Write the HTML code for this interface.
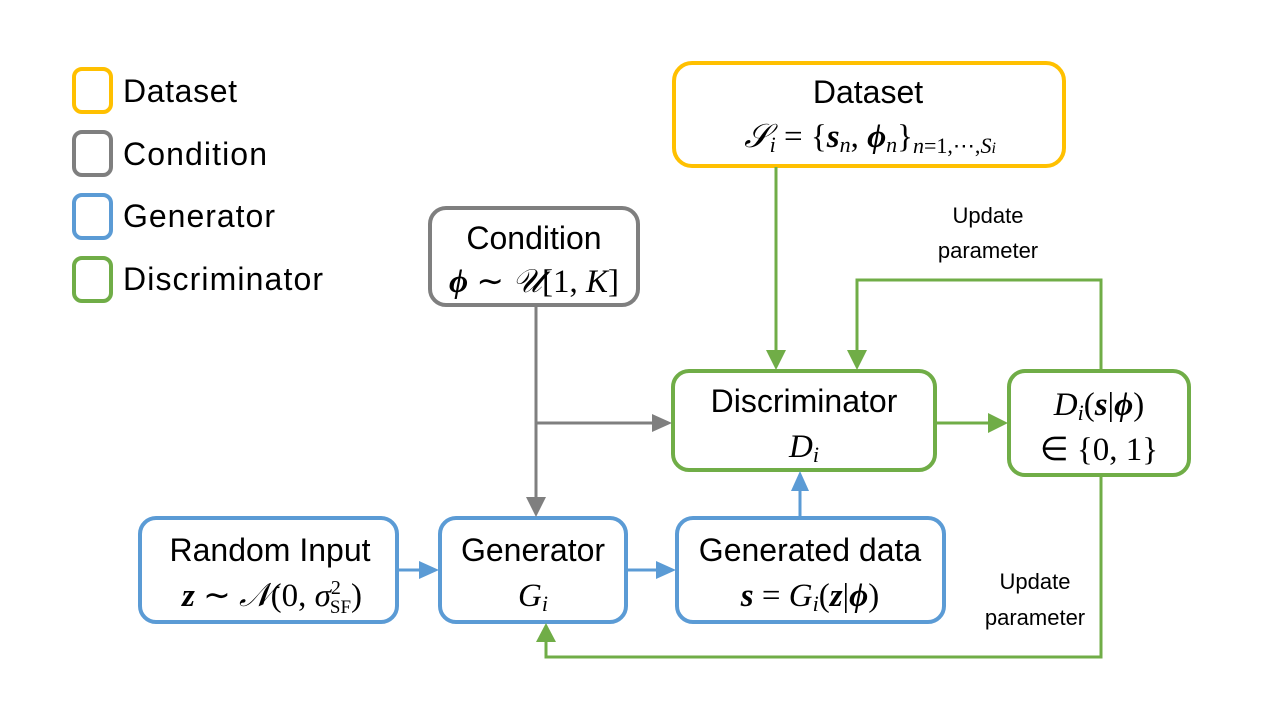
<!DOCTYPE html>
<html><head><meta charset="utf-8"><style>
html,body{margin:0;padding:0;background:#fff;}
svg{display:block;}
.t{font-family:"Liberation Sans",sans-serif;font-size:32px;fill:#000;}
.m{font-family:"Liberation Serif",serif;font-size:33px;fill:#000;}
.s{font-family:"Liberation Sans",sans-serif;font-size:22px;fill:#000;}
</style></head><body>
<svg width="1280" height="720" viewBox="0 0 1280 720" xmlns="http://www.w3.org/2000/svg">
<g fill="none" stroke-width="4">
<rect x="74" y="69" width="37" height="43" rx="8" stroke="#FFC000"/>
<rect x="74" y="132" width="37" height="43" rx="8" stroke="#7F7F7F"/>
<rect x="74" y="195" width="37" height="43" rx="8" stroke="#5B9BD5"/>
<rect x="74" y="258" width="37" height="43" rx="8" stroke="#70AD47"/>
<rect x="674" y="63" width="390" height="103" rx="18" stroke="#FFC000"/>
<rect x="430" y="208" width="208" height="97" rx="16" stroke="#7F7F7F"/>
<rect x="673" y="371" width="262" height="99" rx="16" stroke="#70AD47"/>
<rect x="1009" y="371" width="180" height="104" rx="16" stroke="#70AD47"/>
<rect x="140" y="518" width="257" height="104" rx="16" stroke="#5B9BD5"/>
<rect x="440" y="518" width="186" height="104" rx="16" stroke="#5B9BD5"/>
<rect x="677" y="518" width="267" height="104" rx="16" stroke="#5B9BD5"/>
</g>
<g stroke-width="3" fill="none">
<path d="M776 167 V352" stroke="#70AD47"/>
<path d="M1101 370 V280 H857 V352" stroke="#70AD47"/>
<path d="M936 423 H990" stroke="#70AD47"/>
<path d="M1101 476 V657 H546 V642" stroke="#70AD47"/>
<path d="M536 306 V499" stroke="#7F7F7F"/>
<path d="M536 423 H654" stroke="#7F7F7F"/>
<path d="M398 570 H421" stroke="#5B9BD5"/>
<path d="M627 570 H658" stroke="#5B9BD5"/>
<path d="M800 517 V490" stroke="#5B9BD5"/>
</g>
<g>
<path d="M766 350 L786 350 L776 370z" fill="#70AD47"/>
<path d="M847 350 L867 350 L857 370z" fill="#70AD47"/>
<path d="M988 413 L1008 423 L988 433z" fill="#70AD47"/>
<path d="M536 642 L556 642 L546 623z" fill="#70AD47"/>
<path d="M526 497 L546 497 L536 517z" fill="#7F7F7F"/>
<path d="M652 414 L672 423 L652 432z" fill="#7F7F7F"/>
<path d="M419 561 L439 570 L419 579z" fill="#5B9BD5"/>
<path d="M656 561 L676 570 L656 579z" fill="#5B9BD5"/>
<path d="M791 491 L809 491 L800 471z" fill="#5B9BD5"/>
</g>
<g textLength="0">
<text class="t" x="123" y="102" textLength="114">Dataset</text>
<text class="t" x="123" y="165" textLength="144">Condition</text>
<text class="t" x="123" y="227" textLength="152">Generator</text>
<text class="t" x="123" y="290" textLength="200">Discriminator</text>
</g>
<g text-anchor="middle">
<text class="t" x="868" y="103">Dataset</text>
<text class="m" x="870" y="147"><tspan font-style="italic">𝒮<tspan font-size="22" dy="5">i</tspan></tspan><tspan dy="-5"> = {</tspan><tspan font-weight="bold" font-style="italic">s</tspan><tspan font-style="italic" font-size="22" dy="5">n</tspan><tspan dy="-5">, </tspan><tspan font-weight="bold" font-style="italic">ϕ</tspan><tspan font-style="italic" font-size="22" dy="5">n</tspan><tspan dy="-5">}</tspan><tspan font-size="22" dy="6"><tspan font-style="italic">n</tspan>=1,⋯,<tspan font-style="italic">S</tspan><tspan font-style="italic" font-size="16">i</tspan></tspan></text>
<text class="t" x="534" y="249">Condition</text>
<text class="m" x="534" y="292"><tspan font-weight="bold" font-style="italic">ϕ</tspan> ∼ <tspan font-style="italic">𝒰</tspan>[1, <tspan font-style="italic">K</tspan>]</text>
<text class="t" x="804" y="412">Discriminator</text>
<text class="m" x="804" y="457" font-style="italic">D<tspan font-size="22" dy="5">i</tspan></text>
<text class="m" x="1099" y="415"><tspan font-style="italic">D</tspan><tspan font-style="italic" font-size="22" dy="5">i</tspan><tspan dy="-5">(</tspan><tspan font-weight="bold" font-style="italic">s</tspan>|<tspan font-weight="bold" font-style="italic">ϕ</tspan>)</text>
<text class="m" x="1099" y="460">∈ {0, 1}</text>
<text class="t" x="270" y="561">Random Input</text>
<text class="m" x="272" y="606"><tspan font-weight="bold" font-style="italic">z</tspan> ∼ <tspan font-style="italic">𝒩</tspan>(0, <tspan font-style="italic">σ</tspan><tspan font-size="20" dy="-12">2</tspan><tspan font-size="19" dx="-11" dy="19">SF</tspan><tspan dy="-7">)</tspan></text>
<text class="t" x="533" y="561">Generator</text>
<text class="m" x="533" y="606" font-style="italic">G<tspan font-size="22" dy="5">i</tspan></text>
<text class="t" x="810" y="561">Generated data</text>
<text class="m" x="810" y="606"><tspan font-weight="bold" font-style="italic">s</tspan> = <tspan font-style="italic">G</tspan><tspan font-style="italic" font-size="22" dy="5">i</tspan><tspan dy="-5">(</tspan><tspan font-weight="bold" font-style="italic">z</tspan>|<tspan font-weight="bold" font-style="italic">ϕ</tspan>)</text>
<text class="s" x="988" y="223">Update</text>
<text class="s" x="988" y="258">parameter</text>
<text class="s" x="1035" y="589">Update</text>
<text class="s" x="1035" y="625">parameter</text>
</g>
</svg>
</body></html>
